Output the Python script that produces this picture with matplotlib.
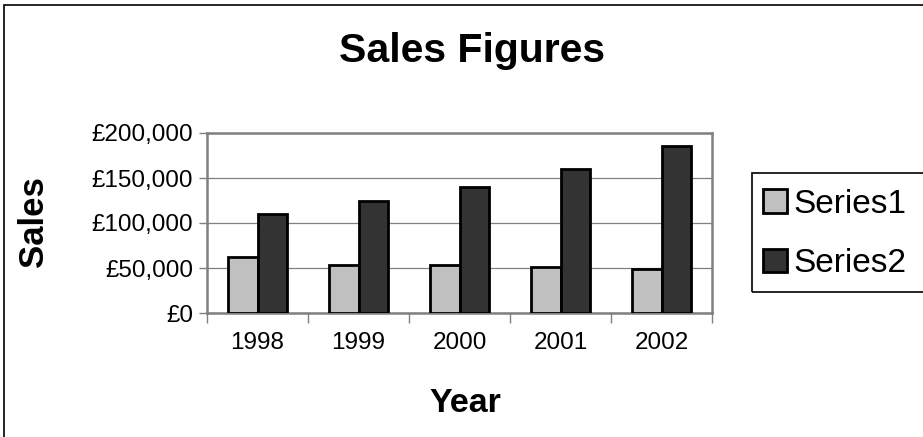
import matplotlib
matplotlib.use("Agg")
import matplotlib.pyplot as plt
import matplotlib.ticker as mticker
from matplotlib.patches import Rectangle
import numpy as np

plt.rcParams['font.family'] = ['Liberation Sans', 'DejaVu Sans']

years = ['1998', '1999', '2000', '2001', '2002']
series1 = [62000, 53000, 53000, 51000, 49000]
series2 = [110000, 125000, 140000, 160000, 185000]
series_names = ['Series1', 'Series2']

W, H = 923, 437
fig = plt.figure(figsize=(W / 100.0, H / 100.0), dpi=100)

def fx(px):
    return px / float(W)

def fy(py):
    return 1.0 - py / float(H)

# outer chart border (right / bottom edge is cut off in the reference)
fig.patches.append(Rectangle((fx(4), fy(460)), fx(940) - fx(4), fy(5) - fy(460),
                             transform=fig.transFigure, fill=False,
                             edgecolor='black', lw=1.2))

ax = fig.add_axes([fx(207), fy(313), fx(712) - fx(207), fy(133) - fy(313)])

x = np.arange(len(years))
w = 0.29
b1 = ax.bar(x - w / 2, series1, w, color='#c0c0c0', edgecolor='black', lw=2.0,
            label=series_names[0], zorder=3)
b2 = ax.bar(x + w / 2, series2, w, color='#333333', edgecolor='black', lw=2.0,
            label=series_names[1], zorder=3)

ax.set_xlim(-0.5, len(years) - 0.5)
ax.set_ylim(0, 200000)
ax.yaxis.set_major_locator(mticker.MultipleLocator(50000))
ax.yaxis.set_major_formatter(mticker.FuncFormatter(lambda v, p: '£{:,.0f}'.format(v)))
ax.grid(axis='y', color='#808080', lw=0.9, zorder=0)

ax.set_xticks(x)
ax.set_xticklabels(years)
ax.set_xticks(np.arange(-0.5, len(years)), minor=True)
ax.tick_params(axis='x', which='major', length=0, pad=14, labelsize=17.5)
ax.tick_params(axis='x', which='minor', length=7, color='#808080', width=1)
ax.tick_params(axis='y', length=6, color='#808080', width=1, pad=4, labelsize=17.5)

for s in ax.spines.values():
    s.set_color('#808080')
    s.set_linewidth(1.8)

fig.text(fx(472), fy(51), 'Sales Figures', ha='center', va='center',
         fontsize=29.5, fontweight='bold')
fig.text(fx(465), fy(403), 'Year', ha='center', va='center',
         fontsize=24.5, fontweight='bold')
fig.text(fx(34), fy(222), 'Sales', ha='center', va='center', rotation=90,
         fontsize=25, fontweight='bold')

# legend box
fig.patches.append(Rectangle((fx(752), fy(292)), fx(940) - fx(752), fy(173) - fy(292),
                             transform=fig.transFigure, fill=False,
                             edgecolor='black', lw=1.2))
fig.legend(handles=[b1, b2], labels=series_names, loc='center left',
           bbox_to_anchor=(fx(756), fy(234)), frameon=False, fontsize=24,
           handlelength=0.72, handleheight=0.72, handletextpad=0.2,
           labelspacing=0.85, borderpad=0.2, borderaxespad=0)

fig.savefig('out.png', dpi=100)
